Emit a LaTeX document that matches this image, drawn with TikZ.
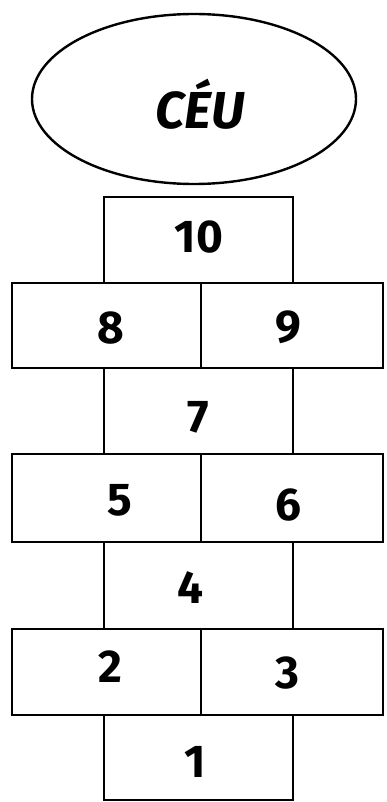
\documentclass[tikz,border=0pt]{standalone}
\usepackage{fontspec}
\setmainfont{Fira Sans}
\usetikzlibrary{shapes.geometric}
\begin{document}
\begin{tikzpicture}[x=1pt,y=-1pt,
  cell/.style={draw=black,line width=2.8pt,inner sep=0pt},
  num/.style={font=\fontsize{46}{46}\selectfont\bfseries,inner sep=0pt}]
\useasboundingbox (0,0) rectangle (386,802);
% sky
\node[ellipse,draw=black,line width=2.4pt,minimum width=324pt,minimum height=170pt] (ceu) at (194,99) {};
\node[num,font=\fontsize{52}{52}\selectfont\bfseries\itshape] (tceu) at (200,104) {CÉU};
% cells
\draw[cell] (104,197) rectangle (293,283) node[midway] (c10) {};
\draw[cell] (12,283) rectangle (201,368) node[midway] (c8) {};
\draw[cell] (201,283) rectangle (383,368) node[midway] (c9) {};
\draw[cell] (104,368) rectangle (293,454) node[midway] (c7) {};
\draw[cell] (12,454) rectangle (201,542) node[midway] (c5) {};
\draw[cell] (201,454) rectangle (383,542) node[midway] (c6) {};
\draw[cell] (104,542) rectangle (293,629) node[midway] (c4) {};
\draw[cell] (12,629) rectangle (201,715) node[midway] (c2) {};
\draw[cell] (201,629) rectangle (383,715) node[midway] (c3) {};
\draw[cell] (104,715) rectangle (293,800) node[midway] (c1) {};
% numbers
\node[num] (t10) at (199,237) {10};
\node[num] (t8) at (111,328) {8};
\node[num] (t9) at (288,327) {9};
\node[num] (t7) at (198,417) {7};
\node[num] (t5) at (120,500) {5};
\node[num] (t6) at (288,505) {6};
\node[num] (t4) at (190,588) {4};
\node[num] (t2) at (110,667) {2};
\node[num] (t3) at (287,673) {3};
\node[num] (t1) at (195,762) {1};
\end{tikzpicture}
\end{document}
